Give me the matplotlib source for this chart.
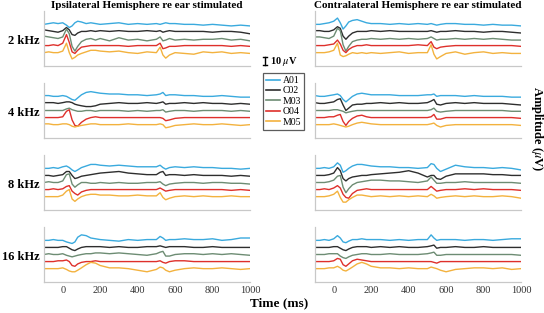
import matplotlib
matplotlib.use("Agg")
import matplotlib.pyplot as plt
from matplotlib.lines import Line2D

plt.rcParams['font.family'] = ['Liberation Serif', 'DejaVu Serif']
plt.rcParams['mathtext.fontset'] = 'stix'

# ---------------- data ----------------
time_ms = [-100, -75, -50, -25, 0, 20, 35, 50, 65, 80, 100, 125, 150, 175, 200, 250, 300,
           350, 400, 450, 500, 520, 535, 550, 570, 600, 650, 700, 750, 800, 850, 900, 950, 1000]
channels = ["A01", "C02", "M03", "O04", "M05"]
frequencies = ["2 kHz", "4 kHz", "8 kHz", "16 kHz"]
x_ticks = [0, 200, 400, 600, 800, 1000]

# amplitude (uV) of each channel, ipsilateral hemisphere
ipsi_2k_A01 = [0,1,2,1,2,-1,-4,-2,2,4,3,1,2,1,0,1,2,0,1,0,1,0,1,2,1,1,0,0,-1,0,-1,-2,-1,-2]
ipsi_2k_C02 = [2,1,0,-1,1,5,2,-4,-5,-2,0,0,1,0,1,0,1,0,0,1,0,1,-1,0,1,0,0,0,0,-1,0,0,-1,-3]
ipsi_2k_M03 = [3,2,1,0,2,12,6,-10,-16,-10,-4,-1,0,-2,0,-3,1,-2,-1,-3,-1,2,-3,-2,0,-2,-1,-2,-1,-1,0,-2,-1,-3]
ipsi_2k_O04 = [0,0,1,0,3,14,4,-8,-10,-6,-2,-1,0,0,0,0,0,-1,0,0,0,3,-4,-3,-1,-1,0,0,0,0,0,-1,0,-1]
ipsi_2k_M05 = [0,1,0,0,2,12,0,-8,-6,-3,-1,1,3,3,2,1,2,0,-1,1,0,7,-3,-7,-3,0,-1,-2,1,0,1,-1,0,-1]

ipsi_4k_A01 = [1,1,0,0,1,0,-2,-4,-5,-2,2,5,6,5,4,3,3,2,2,1,2,3,5,1,2,2,1,1,0,0,1,0,-1,-1]
ipsi_4k_C02 = [1,1,1,0,1,2,2,1,-1,-2,-3,-4,-4,-3,-1,0,1,0,0,1,0,1,2,-1,0,0,1,0,1,0,0,-1,0,-1]
ipsi_4k_M03 = [0,0,0,0,0,2,3,1,0,-1,-1,0,0,-1,0,0,0,-1,0,-1,0,0,1,-2,-1,0,0,-1,0,0,0,-1,0,-1]
ipsi_4k_O04 = [0,0,0,0,1,8,10,-3,-10,-11,-6,-2,0,1,0,0,0,0,0,0,0,0,-1,-4,-3,-1,0,0,0,0,0,0,0,0]
ipsi_4k_M05 = [1,1,0,0,1,1,0,-2,-3,-2,-1,0,1,1,0,0,0,1,0,0,0,1,0,-4,-3,-1,0,1,0,0,1,0,-1,0]

ipsi_8k_A01 = [0,0,1,0,2,3,1,-2,-4,-2,1,3,5,5,4,3,4,3,2,2,2,4,1,-1,1,2,1,2,1,1,0,0,-1,0]
ipsi_8k_C02 = [0,0,-1,0,1,5,5,0,-4,-3,-1,0,1,2,3,4,5,3,2,1,1,4,5,0,1,1,0,1,0,0,0,-1,0,-1]
ipsi_8k_M03 = [0,1,0,0,2,10,11,-2,-6,-3,0,0,-1,-1,0,-1,0,-1,-1,0,0,1,-2,-4,-2,-1,0,0,-1,0,0,-1,-1,-2]
ipsi_8k_O04 = [0,0,1,0,1,4,5,-2,-5,-7,-3,-1,0,0,0,0,0,0,0,0,0,2,0,-2,-1,0,0,0,0,0,0,-1,0,-1]
ipsi_8k_M05 = [0,0,0,0,2,7,9,-3,-6,-3,0,2,3,3,2,2,1,1,2,1,1,5,-1,-4,-2,0,1,0,1,0,0,1,0,0]

ipsi_16k_A01 = [0,0,1,0,0,-2,-3,-4,-2,4,7,6,3,2,1,0,-1,1,0,1,1,5,3,0,1,1,2,1,1,2,0,1,3,3]
ipsi_16k_C02 = [0,0,0,0,1,1,-1,-3,-4,-2,0,1,1,1,1,0,1,0,0,1,1,2,1,0,1,1,1,0,0,1,0,0,0,0]
ipsi_16k_M03 = [0,1,0,0,1,-1,-2,-3,-2,-1,0,1,1,2,2,1,2,1,0,-1,1,3,4,-2,-2,0,1,1,0,1,0,1,0,-1]
ipsi_16k_O04 = [0,0,0,1,1,2,0,-5,-6,-3,-1,0,0,1,0,0,0,0,0,0,0,1,-1,-2,0,1,1,0,0,0,0,0,0,0]
ipsi_16k_M05 = [0,0,0,0,1,-1,-3,-4,-4,-2,1,5,8,7,4,1,1,0,-2,-4,-1,2,1,-2,-4,-2,0,1,0,0,1,0,-1,0]

# amplitude (uV) of each channel, contralateral hemisphere
contra_2k_A01 = [0,0,1,2,4,8,2,-6,-2,3,5,6,4,2,1,1,0,1,0,1,0,1,0,-1,0,1,1,0,0,-1,0,-1,-1,-2]
contra_2k_C02 = [1,1,0,0,2,6,4,-6,-10,-6,-2,0,0,0,1,0,1,0,0,0,0,1,0,-1,0,0,1,0,0,-1,0,0,-1,-2]
contra_2k_M03 = [2,2,1,0,3,13,10,-8,-16,-10,-4,-2,-1,-1,0,-1,0,-1,0,-1,0,2,0,-2,-1,-1,0,-1,0,-1,0,-1,-2,-2]
contra_2k_O04 = [0,0,0,1,2,7,2,-6,-9,-5,-2,0,0,1,0,0,0,0,0,1,0,5,-2,-4,-2,-1,0,0,0,0,0,0,0,-1]
contra_2k_M05 = [0,0,0,1,3,12,-3,-5,-4,-2,0,-1,0,-1,0,-1,0,1,-1,0,0,10,-2,-8,-5,-1,1,-2,0,1,-1,0,-1,-1]

contra_4k_A01 = [1,0,0,1,2,3,1,-4,-7,-4,0,3,4,3,2,2,2,1,1,1,2,2,3,0,1,1,1,0,1,0,0,0,-1,-1]
contra_4k_C02 = [1,0,0,1,2,5,6,-2,-9,-6,-2,-1,-1,0,0,1,0,1,0,0,1,3,5,-1,-2,0,1,0,1,0,0,0,-1,-2]
contra_4k_M03 = [0,0,0,0,1,1,0,-1,-3,-2,-1,0,0,0,0,0,0,0,0,0,0,1,3,-1,-2,-1,0,0,0,0,0,0,-1,-1]
contra_4k_O04 = [0,0,0,1,1,3,4,-5,-10,-5,-1,2,3,1,0,0,0,0,0,0,0,1,4,-2,-2,0,0,0,0,0,0,0,0,-1]
contra_4k_M05 = [0,0,0,0,1,0,-1,-2,-3,-2,0,2,3,2,1,0,0,0,0,0,0,1,2,-1,-3,-1,0,0,0,0,0,0,0,-1]

contra_8k_A01 = [0,0,1,0,2,7,4,-5,-3,0,3,5,5,4,3,2,2,1,1,0,1,6,5,0,-4,-1,4,2,1,1,0,1,0,-2]
contra_8k_C02 = [0,0,0,1,3,10,6,-4,-7,-4,-2,-1,0,0,1,2,3,4,6,3,-2,0,0,-4,-5,-1,2,2,2,2,1,1,0,0]
contra_8k_M03 = [0,0,0,1,3,8,9,-6,-13,-8,-3,0,1,2,3,3,2,2,1,0,2,7,3,-1,-1,0,0,1,0,0,0,0,0,-1]
contra_8k_O04 = [0,0,1,0,2,5,2,-6,-10,-11,-5,-1,0,1,0,0,0,0,0,0,0,4,1,-2,-1,0,0,1,0,1,0,0,0,-1]
contra_8k_M05 = [0,0,0,1,3,7,-1,-7,-7,-4,-1,2,2,1,0,1,0,1,0,1,0,3,1,-2,-1,0,1,0,1,0,0,1,0,-2]

contra_16k_A01 = [0,0,1,0,2,6,3,-2,-3,-1,1,1,2,1,1,1,0,1,0,1,1,7,3,0,1,1,1,0,1,1,0,1,2,2]
contra_16k_C02 = [0,0,0,0,1,1,-1,-3,-4,-2,0,1,1,1,0,1,0,1,0,0,1,2,3,-1,0,0,1,0,0,1,0,0,0,0]
contra_16k_M03 = [0,0,0,1,1,1,-2,-4,-5,-3,-1,0,1,1,0,0,1,0,0,0,1,2,3,-1,-1,0,0,0,0,0,0,0,0,-1]
contra_16k_O04 = [0,0,0,0,1,4,3,-4,-6,-3,1,3,2,1,0,0,0,0,0,0,0,0,-1,-2,0,0,0,0,0,0,0,0,0,0]
contra_16k_M05 = [0,0,0,1,1,3,1,-2,-3,-1,2,6,8,6,3,1,1,0,1,0,0,2,1,0,-2,-4,-1,0,1,1,0,1,-1,0]

ipsi = [
    [ipsi_2k_A01, ipsi_2k_C02, ipsi_2k_M03, ipsi_2k_O04, ipsi_2k_M05],
    [ipsi_4k_A01, ipsi_4k_C02, ipsi_4k_M03, ipsi_4k_O04, ipsi_4k_M05],
    [ipsi_8k_A01, ipsi_8k_C02, ipsi_8k_M03, ipsi_8k_O04, ipsi_8k_M05],
    [ipsi_16k_A01, ipsi_16k_C02, ipsi_16k_M03, ipsi_16k_O04, ipsi_16k_M05],
]
contra = [
    [contra_2k_A01, contra_2k_C02, contra_2k_M03, contra_2k_O04, contra_2k_M05],
    [contra_4k_A01, contra_4k_C02, contra_4k_M03, contra_4k_O04, contra_4k_M05],
    [contra_8k_A01, contra_8k_C02, contra_8k_M03, contra_8k_O04, contra_8k_M05],
    [contra_16k_A01, contra_16k_C02, contra_16k_M03, contra_16k_O04, contra_16k_M05],
]

# ---------------- style ----------------
colors = ['#3aaade', '#2e2e2e', '#6d8c73', '#de302b', '#f3b23e']
trace_step = 9.0          # vertical separation between stacked channels (uV)
ylim = (-35, 35)
W, H = 544, 313

fig = plt.figure(figsize=(W / 100, H / 100), dpi=100)

col_left = [44, 315]
col_width = 206
row_top = [11, 83, 155, 227]
row_h = 55

def px_rect(x0, y0, w, h):
    return [x0 / W, 1 - (y0 + h) / H, w / W, h / H]

for c, data in enumerate([ipsi, contra]):
    for r in range(4):
        ax = fig.add_axes(px_rect(col_left[c], row_top[r], col_width, row_h))
        for k in range(5):
            off = (2 - k) * trace_step
            ax.plot(time_ms, [v + off for v in data[r][k]], color=colors[k], lw=1.0)
        ax.set_xlim(-100, 1000)
        ax.set_ylim(*ylim)
        ax.set_yticks([])
        ax.set_xticks(x_ticks)
        for s in ['top', 'right']:
            ax.spines[s].set_visible(False)
        for s in ['left', 'bottom']:
            ax.spines[s].set_color('#c8c8c8')
            ax.spines[s].set_linewidth(0.9)
        ax.tick_params(axis='x', length=0, pad=3, labelsize=7.5, labelcolor='#333333')
        if r < 3:
            ax.tick_params(axis='x', labelbottom=False)
        if c == 0:
            fig.text(40 / W, 1 - (row_top[r] + row_h / 2 + 3) / H, frequencies[r],
                     ha='right', va='center', fontsize=9, fontweight='bold')

fig.text((44 + 103) / W, 1 - 6 / H, "Ipsilateral Hemisphere re ear stimulated",
         ha='center', va='center', fontsize=8, fontweight='bold')
fig.text((315 + 103) / W, 1 - 6 / H, "Contralateral Hemisphere re ear stimulated",
         ha='center', va='center', fontsize=8, fontweight='bold')

fig.text(279 / W, 1 - 303 / H, "Time (ms)", ha='center', va='center',
         fontsize=9.5, fontweight='bold')
fig.text(537 / W, 1 - 129 / H, r"Amplitude ($\mu$V)", ha='center', va='center',
         rotation=270, fontsize=9, fontweight='bold')

# 10 uV scale bar
bar_px = 10 * row_h / (ylim[1] - ylim[0])
bx, by = 265, 61
fig.add_artist(Line2D([bx / W, bx / W], [1 - (by - bar_px / 2) / H, 1 - (by + bar_px / 2) / H],
                      color='black', lw=1.0, transform=fig.transFigure))
for yy in [by - bar_px / 2, by + bar_px / 2]:
    fig.add_artist(Line2D([(bx - 2) / W, (bx + 2) / W], [1 - yy / H, 1 - yy / H],
                          color='black', lw=1.0, transform=fig.transFigure))
fig.text(270 / W, 1 - by / H, r"10 $\mu$V", ha='left', va='center',
         fontsize=7.5, fontweight='bold')

handles = [Line2D([], [], color=colors[k], lw=1.2) for k in range(5)]
leg = fig.legend(handles, channels, loc='upper left', bbox_to_anchor=(263 / W, 1 - 73 / H),
                 fontsize=7, frameon=True, fancybox=False, handlelength=1.4,
                 handletextpad=0.3, labelspacing=0.15, borderpad=0.3, borderaxespad=0)
leg.get_frame().set_edgecolor('#333333')
leg.get_frame().set_linewidth(0.9)

fig.savefig("out.png", dpi=100)
